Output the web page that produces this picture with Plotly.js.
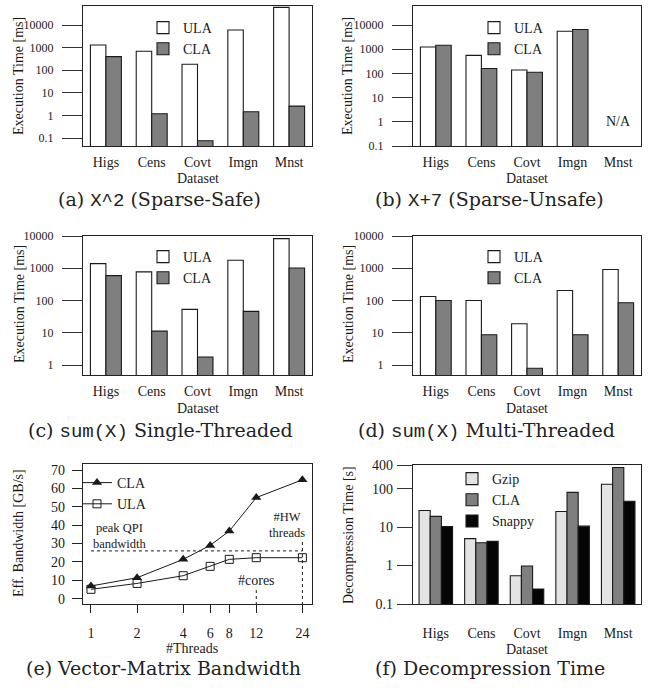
<!DOCTYPE html>
<html><head><meta charset="utf-8">
<script src="https://cdn.plot.ly/plotly-3.0.1.min.js"></script>
<style>html,body{margin:0;padding:0;background:#fff}#chart{width:649px;height:690px}</style>
</head><body><div id="chart"></div>
<script>
// ---------- data ----------
const datasets = ['Higs','Cens','Covt','Imgn','Mnst'];
const sqULA = [1300, 690, 185, 6000, 60000];
const sqCLA = [400, 1.2, 0.076, 1.45, 2.6];
const plus7ULA = [1250, 560, 140, 5600, null];
const plus7CLA = [1470, 160, 113, 6600, null];
const sumSTULA = [1390, 770, 53, 1770, 8300];
const sumSTCLA = [590, 11.2, 1.77, 46, 1020];
const sumMTULA = [133, 100, 19, 204, 910];
const sumMTCLA = [100, 8.7, 0.79, 8.7, 85];
const threads = [1, 2, 4, 6, 8, 12, 24];
const bwCLA = [6.9, 11.4, 21.4, 29, 36.8, 55, 64.7];
const bwULA = [5.1, 8.3, 12.5, 17.6, 21.4, 22.3, 22.3];
const decGzip = [27, 5, 0.545, 25.5, 130];
const decCLA = [19, 3.9, 0.97, 80, 355];
const decSnappy = [10.3, 4.25, 0.245, 10.6, 47];
const peakQPI = 26;
const numCores = 12;
const hwThreads = 24;
const msTicks = [0.1, 1, 10, 100, 1000, 10000];
const msTickText = ['0.1','1','10','100','1000','10000'];
const secTicks = [0.1, 1, 10, 100, 400];
const secTickText = ['0.1','1','10','100','400'];
const bwTicks = [0, 10, 20, 30, 40, 50, 60, 70];

// ---------- layout helpers ----------
const W = 649, H = 690;
const fx = p => p / W;
const fy = p => 1 - p / H;
const SERIF = 'Liberation Serif';
const INK = '#1a1a1a';
const CLAGRAY = '#7f7f7f';
const boxAxis = {showline:true, mirror:true, linecolor:'#222', linewidth:1.2, showgrid:false, zeroline:false};

function barX(dom){
  return Object.assign({}, boxAxis, {domain:[fx(dom[0]), fx(dom[1])], type:'category', range:[-0.5,4.5],
    ticks:'', tickfont:{family:SERIF, size:14, color:INK}, ticklabelstandoff:3});
}
function logY(dom, range, tv, tt, fs){
  return Object.assign({}, boxAxis, {domain:[fy(dom[1]), fy(dom[0])], type:'log', range:range,
    tickvals:tv, ticktext:tt, ticks:'outside', ticklen:20, tickcolor:'#333', tickwidth:1,
    tickfont:{family:SERIF, size:fs, color:INK}, ticklabelstandoff:6});
}

const BW = 0.338;
function pair(ula, cla, xa, ya, leg){
  return [
    {type:'bar', name:'ULA', x:datasets, y:ula, xaxis:xa, yaxis:ya, width:BW, offset:-BW,
     marker:{color:'#ffffff', line:{color:INK, width:1.1}}, legend:leg, showlegend:true},
    {type:'bar', name:'CLA', x:datasets, y:cla, xaxis:xa, yaxis:ya, width:BW, offset:0,
     marker:{color:CLAGRAY, line:{color:INK, width:1.1}}, legend:leg, showlegend:true}
  ];
}

const FW = 0.245;
const traces = [].concat(
  pair(sqULA, sqCLA, 'x', 'y', 'legend'),
  pair(plus7ULA, plus7CLA, 'x2', 'y2', 'legend2'),
  pair(sumSTULA, sumSTCLA, 'x3', 'y3', 'legend3'),
  pair(sumMTULA, sumMTCLA, 'x4', 'y4', 'legend4'),
  [
    {type:'scatter', mode:'lines+markers', name:'CLA', x:threads, y:bwCLA, xaxis:'x5', yaxis:'y5',
     line:{color:INK, width:1}, marker:{symbol:'triangle-up', size:9, color:INK}, legend:'legend5'},
    {type:'scatter', mode:'lines+markers', name:'ULA', x:threads, y:bwULA, xaxis:'x5', yaxis:'y5',
     line:{color:INK, width:1}, marker:{symbol:'square-open', size:8, color:INK, line:{width:1}}, legend:'legend5'},
    {type:'scatter', mode:'lines', x:[threads[0], hwThreads], y:[peakQPI, peakQPI], xaxis:'x5', yaxis:'y5',
     line:{color:INK, width:1, dash:'3px,3px'}, showlegend:false, hoverinfo:'skip'},
    {type:'scatter', mode:'lines', x:[numCores, numCores], y:[-10, 5.8], xaxis:'x5', yaxis:'y5',
     line:{color:INK, width:1, dash:'3px,3px'}, showlegend:false, hoverinfo:'skip'},
    {type:'scatter', mode:'lines', x:[hwThreads, hwThreads], y:[-10, 31], xaxis:'x5', yaxis:'y5',
     line:{color:INK, width:1, dash:'3px,3px'}, showlegend:false, hoverinfo:'skip'},
    {type:'bar', name:'Gzip', x:datasets, y:decGzip, xaxis:'x6', yaxis:'y6', width:FW, offset:-1.5*FW,
     marker:{color:'#e3e3e3', line:{color:INK, width:1.1}}, legend:'legend6'},
    {type:'bar', name:'CLA', x:datasets, y:decCLA, xaxis:'x6', yaxis:'y6', width:FW, offset:-0.5*FW,
     marker:{color:CLAGRAY, line:{color:INK, width:1.1}}, legend:'legend6'},
    {type:'bar', name:'Snappy', x:datasets, y:decSnappy, xaxis:'x6', yaxis:'y6', width:FW, offset:0.5*FW,
     marker:{color:'#050505', line:{color:INK, width:1.1}}, legend:'legend6'}
  ]
);

function leg(xpx, ypx){
  return {x:fx(xpx), xanchor:'left', y:fy(ypx), yanchor:'top', bgcolor:'rgba(0,0,0,0)', borderwidth:0,
    font:{family:SERIF, size:14, color:INK}, tracegroupgap:0, itemwidth:30, traceorder:'normal'};
}

function txt(text, xpx, ypx, size, extra){
  return Object.assign({text:text, xref:'paper', yref:'paper', x:fx(xpx), y:fy(ypx), xanchor:'center', yanchor:'middle',
    showarrow:false, font:{family:SERIF, size:size, color:INK}}, extra||{});
}
const CAP = 'DejaVu Serif';
const MONO = '<span style="font-family:Liberation Mono">';
function cap(text, xpx, ypx){ return txt(text, xpx, ypx, 19, {font:{family:CAP, size:19, color:'#222'}}); }

const annotations = [
  txt('Execution Time [ms]', 19, 76, 14, {textangle:-90}),
  txt('Execution Time [ms]', 348, 76, 14, {textangle:-90}),
  txt('Execution Time [ms]', 19, 304, 14, {textangle:-90}),
  txt('Execution Time [ms]', 348, 304, 14, {textangle:-90}),
  txt('Eff. Bandwidth [GB/s]', 18, 533, 14, {textangle:-90}),
  txt('Decompression Time [s]', 348, 535, 14, {textangle:-90}),
  txt('Dataset', 197.5, 178, 14),
  txt('Dataset', 527, 178, 14),
  txt('Dataset', 197.5, 408, 14),
  txt('Dataset', 527, 408, 14),
  txt('#Threads', 192, 648, 14),
  txt('Dataset', 527, 649.5, 14),
  {text:'N/A', xref:'x2', yref:'y2', x:datasets[4], y:Math.log10(1), showarrow:false,
   font:{family:SERIF, size:14, color:INK}, xanchor:'center', yanchor:'middle'},
  txt('peak QPI<br>bandwidth', 120, 535.5, 12.5),
  txt('#HW<br>threads', 287, 524.5, 12.5),
  txt('#cores', 256, 580, 14),
  cap('(a) ' + MONO + 'X^2</span> (Sparse-Safe)', 159, 200),
  cap('(b) ' + MONO + 'X+7</span> (Sparse-Unsafe)', 489, 200),
  cap('(c) ' + MONO + 'sum(X)</span> Single-Threaded', 160, 431),
  cap('(d) ' + MONO + 'sum(X)</span> Multi-Threaded', 486, 431),
  cap('(e) Vector-Matrix Bandwidth', 163, 668),
  cap('(f) Decompression Time', 490, 668)
];

const layout = {
  width:W, height:H, margin:{l:0, r:0, t:0, b:0}, paper_bgcolor:'#fff', plot_bgcolor:'#fff',
  showlegend:true, barmode:'overlay', font:{family:SERIF, color:INK},
  xaxis: barX([83,312]), yaxis: logY([6,146], [-1.35, 4.84], msTicks, msTickText, 12),
  xaxis2: Object.assign(barX([413,641]), {anchor:'y2'}), yaxis2: Object.assign(logY([6,146], [-1, 4.79], msTicks, msTickText, 12), {anchor:'x2'}),
  xaxis3: Object.assign(barX([83,312]), {anchor:'y3'}), yaxis3: Object.assign(logY([236,375], [-0.31, 4.0], msTicks, msTickText, 12), {anchor:'x3'}),
  xaxis4: Object.assign(barX([413,641]), {anchor:'y4'}), yaxis4: Object.assign(logY([236,375], [-0.31, 4.0], msTicks, msTickText, 12), {anchor:'x4'}),
  xaxis5: Object.assign({}, boxAxis, {anchor:'y5', domain:[fx(83), fx(312)], type:'log', range:[-0.052, 1.443],
     tickvals:threads, ticktext:threads.map(String), ticks:'outside', ticklen:8, tickcolor:'#222',
     tickfont:{family:SERIF, size:14, color:INK}, ticklabelstandoff:8}),
  yaxis5: Object.assign({}, boxAxis, {anchor:'x5', domain:[fy(604), fy(464)], range:[-2.9, 73.3],
     tickvals:bwTicks, ticks:'outside', ticklen:10, tickcolor:'#222',
     tickfont:{family:SERIF, size:14, color:INK}, ticklabelstandoff:4}),
  xaxis6: Object.assign(barX([413,641]), {anchor:'y6', ticklabelstandoff:16}),
  yaxis6: Object.assign(logY([465,604], [-1, 2.615], secTicks, secTickText, 14), {anchor:'x6', ticklen:15, ticklabelstandoff:1}),
  legend: leg(143, 12), legend2: leg(474, 12), legend3: leg(143, 241), legend4: leg(474, 241),
  legend5: leg(77, 467), legend6: leg(452, 463),
  annotations: annotations
};

Plotly.newPlot('chart', traces, layout, {staticPlot:true, displayModeBar:false});
</script></body></html>
